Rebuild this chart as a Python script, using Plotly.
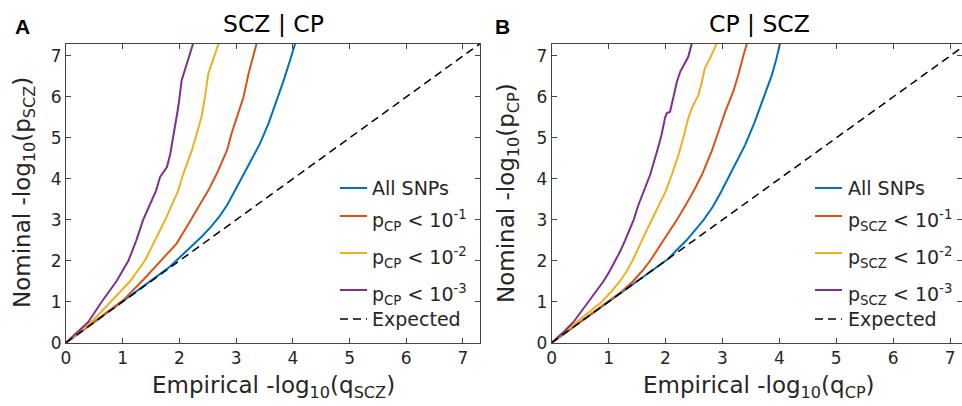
import plotly.graph_objects as go

# ---------------- data ----------------
# Panel A: SCZ | CP   (x = empirical -log10 q, y = nominal -log10 p)
a_all_x = [0, 0.5, 1.0, 1.3, 1.6, 1.8, 1.98, 2.2, 2.4, 2.55, 2.7, 2.85, 2.98, 3.17, 3.42, 3.57, 3.72, 3.84, 3.95, 4.04]
a_all_y = [0, 0.5, 1.0, 1.3, 1.6, 1.82, 2.05, 2.33, 2.6, 2.82, 3.07, 3.38, 3.72, 4.21, 4.86, 5.35, 5.92, 6.41, 6.89, 7.3]
a_p1_x = [0, 0.5, 1.01, 1.36, 1.66, 1.95, 2.13, 2.31, 2.51, 2.66, 2.84, 2.92, 3.01, 3.13, 3.22, 3.31, 3.36]
a_p1_y = [0, 0.52, 1.04, 1.53, 1.98, 2.42, 2.83, 3.24, 3.72, 4.13, 4.7, 5.11, 5.51, 6.0, 6.57, 7.06, 7.3]
a_p2_x = [0, 0.3, 0.5, 0.78, 1.13, 1.39, 1.57, 1.75, 1.98, 2.07, 2.22, 2.31, 2.39, 2.45, 2.51, 2.63, 2.69]
a_p2_y = [0, 0.33, 0.58, 1.0, 1.5, 2.0, 2.5, 3.0, 3.72, 4.13, 4.7, 5.11, 5.51, 6.0, 6.57, 7.06, 7.3]
a_p3_x = [0, 0.2, 0.39, 0.63, 0.89, 1.1, 1.24, 1.36, 1.59, 1.66, 1.78, 1.84, 1.92, 1.98, 2.04, 2.16, 2.24]
a_p3_y = [0, 0.25, 0.5, 1.0, 1.5, 2.0, 2.5, 3.0, 3.72, 4.05, 4.29, 4.62, 5.27, 5.76, 6.41, 6.98, 7.3]

# Panel B: CP | SCZ
b_all_x = [0, 0.5, 1.0, 1.5, 1.87, 2.05, 2.21, 2.37, 2.52, 2.67, 2.83, 2.98, 3.16, 3.4, 3.57, 3.72, 3.87, 3.95, 4.01]
b_all_y = [0, 0.5, 1.0, 1.5, 1.86, 2.05, 2.28, 2.5, 2.75, 3.0, 3.32, 3.69, 4.18, 4.83, 5.4, 5.97, 6.54, 6.94, 7.3]
b_p1_x = [0, 0.5, 1.0, 1.23, 1.43, 1.59, 1.73, 1.85, 1.96, 2.08, 2.2, 2.35, 2.49, 2.64, 2.81, 2.93, 3.05, 3.19, 3.28, 3.37, 3.43]
b_p1_y = [0, 0.5, 1.0, 1.25, 1.5, 1.75, 2.0, 2.25, 2.5, 2.75, 3.0, 3.35, 3.69, 4.1, 4.67, 5.15, 5.64, 6.13, 6.54, 7.02, 7.3]
b_p2_x = [0, 0.3, 0.5, 0.88, 1.05, 1.2, 1.32, 1.42, 1.5, 1.58, 1.67, 1.76, 1.88, 2.0, 2.11, 2.23, 2.31, 2.4, 2.46, 2.58, 2.64, 2.69, 2.78, 2.84, 2.9]
b_p2_y = [0, 0.33, 0.57, 1.0, 1.25, 1.5, 1.75, 2.0, 2.25, 2.5, 2.75, 3.0, 3.35, 3.69, 4.1, 4.59, 4.99, 5.48, 5.72, 6.05, 6.37, 6.7, 6.94, 7.11, 7.3]
b_p3_x = [0, 0.2, 0.38, 0.64, 0.78, 0.91, 1.02, 1.12, 1.21, 1.29, 1.37, 1.44, 1.52, 1.61, 1.73, 1.85, 1.93, 1.99, 2.02, 2.08, 2.14, 2.2, 2.26, 2.34, 2.4, 2.46]
b_p3_y = [0, 0.25, 0.5, 1.0, 1.25, 1.5, 1.75, 2.0, 2.25, 2.5, 2.75, 3.0, 3.35, 3.69, 4.1, 4.67, 5.07, 5.48, 5.6, 5.64, 6.05, 6.37, 6.62, 6.82, 6.98, 7.3]

expected = [0, 7.3]

ticks = [0, 1, 2, 3, 4, 5, 6, 7]
tick_labels = ["0", "1", "2", "3", "4", "5", "6", "7"]

a_names = ["All SNPs", "p<sub>CP</sub> < 10<sup>-1</sup>", "p<sub>CP</sub> < 10<sup>-2</sup>",
           "p<sub>CP</sub> < 10<sup>-3</sup>", "Expected"]
b_names = ["All SNPs", "p<sub>SCZ</sub> < 10<sup>-1</sup>", "p<sub>SCZ</sub> < 10<sup>-2</sup>",
           "p<sub>SCZ</sub> < 10<sup>-3</sup>", "Expected"]
titles = ["SCZ | CP", "CP | SCZ"]
letters = ["A", "B"]
xtitles = ["Empirical -log<sub>10</sub>(q<sub>SCZ</sub>)", "Empirical -log<sub>10</sub>(q<sub>CP</sub>)"]
ytitles = ["Nominal -log<sub>10</sub>(p<sub>SCZ</sub>)", "Nominal -log<sub>10</sub>(p<sub>CP</sub>)"]

colors = ["#0072BD", "#D95319", "#EDB120", "#7E2F8E"]

# ---------------- figure ----------------
W, H = 962, 406
FONT = "DejaVu Sans"
TXT = "#262626"
DASH = "8px,5px"
fig = go.Figure()

def px_x(p):
    return p / W

def px_y(p):
    return 1 - p / H

panels = [
    ([(a_all_x, a_all_y), (a_p1_x, a_p1_y), (a_p2_x, a_p2_y), (a_p3_x, a_p3_y)], a_names, "x", "y"),
    ([(b_all_x, b_all_y), (b_p1_x, b_p1_y), (b_p2_x, b_p2_y), (b_p3_x, b_p3_y)], b_names, "x2", "y2"),
]
for series, names, xa, ya in panels:
    for (xs, ys), nm, c in zip(series, names[:4], colors):
        fig.add_trace(go.Scatter(x=xs, y=ys, mode="lines", name=nm, line=dict(color=c, width=2),
                                 xaxis=xa, yaxis=ya, showlegend=False))
    fig.add_trace(go.Scatter(x=expected, y=expected, mode="lines", name=names[4],
                             line=dict(color="black", width=1.5, dash=DASH),
                             xaxis=xa, yaxis=ya, showlegend=False))

ax_common = dict(tickmode="array", tickvals=ticks, ticktext=tick_labels, ticks="inside", ticklen=5,
                 tickcolor="#444", showline=True, linecolor="#444", linewidth=1, mirror="ticks",
                 showgrid=False, zeroline=False, tickfont=dict(family=FONT, size=17, color=TXT),
                 automargin=False)

fig.update_layout(
    width=W, height=H, margin=dict(l=0, r=0, t=0, b=0, autoexpand=False),
    paper_bgcolor="white", plot_bgcolor="white", showlegend=False,
    xaxis=dict(ax_common, domain=[px_x(66), px_x(480)], range=[0, 7.3], anchor="y"),
    yaxis=dict(ax_common, domain=[px_y(342.7), px_y(43.7)], range=[0, 7.3], anchor="x"),
    xaxis2=dict(ax_common, domain=[px_x(551.7), 1.0], range=[0, 7.21], anchor="y2"),
    yaxis2=dict(ax_common, domain=[px_y(342.7), px_y(43.7)], range=[0, 7.3], anchor="x2"),
)

# legends (line key + label) for each panel
leg_rows = [188, 216, 253, 290, 319]
leg_x = [(340, 367, 370), (815, 842, 846)]
key_styles = [dict(color=c, width=2) for c in colors] + [dict(color="black", width=1.5, dash=DASH)]
for (x0, x1, xt), names in zip(leg_x, [a_names, b_names]):
    for yr, nm, st in zip(leg_rows, names, key_styles):
        fig.add_shape(type="line", xref="paper", yref="paper", x0=px_x(x0), x1=px_x(x1),
                      y0=px_y(yr), y1=px_y(yr), line=st)
        has_sub = "<sub>" in nm
        fig.add_annotation(text=nm, x=px_x(xt), y=px_y(yr + (4 if has_sub else 0)), xref="paper", yref="paper",
                           showarrow=False, font=dict(family=FONT, size=19, color=TXT),
                           xanchor="left", yanchor="middle")

for t, L, cx, lx, xt, yt, ylx in zip(titles, letters, [273, 759], [22, 502], xtitles, ytitles, [24, 508]):
    fig.add_annotation(text=t, x=px_x(cx), y=px_y(24), xref="paper", yref="paper",
                       showarrow=False, font=dict(family=FONT, size=23.5, color="black"),
                       xanchor="center", yanchor="middle")
    fig.add_annotation(text="<b>" + L + "</b>", x=px_x(lx), y=px_y(27), xref="paper", yref="paper",
                       showarrow=False, font=dict(family="Liberation Sans", size=21, color="black"),
                       xanchor="center", yanchor="middle")
    fig.add_annotation(text=xt, x=px_x(cx), y=px_y(387), xref="paper", yref="paper",
                       showarrow=False, font=dict(family=FONT, size=23, color=TXT),
                       xanchor="center", yanchor="middle")
    fig.add_annotation(text=yt, x=px_x(ylx), y=px_y(193), xref="paper", yref="paper", textangle=-90,
                       showarrow=False, font=dict(family=FONT, size=23, color=TXT),
                       xanchor="center", yanchor="middle")

fig.write_html("out.html", config={"displayModeBar": False},
               post_script="document.body.style.margin='0px';")
